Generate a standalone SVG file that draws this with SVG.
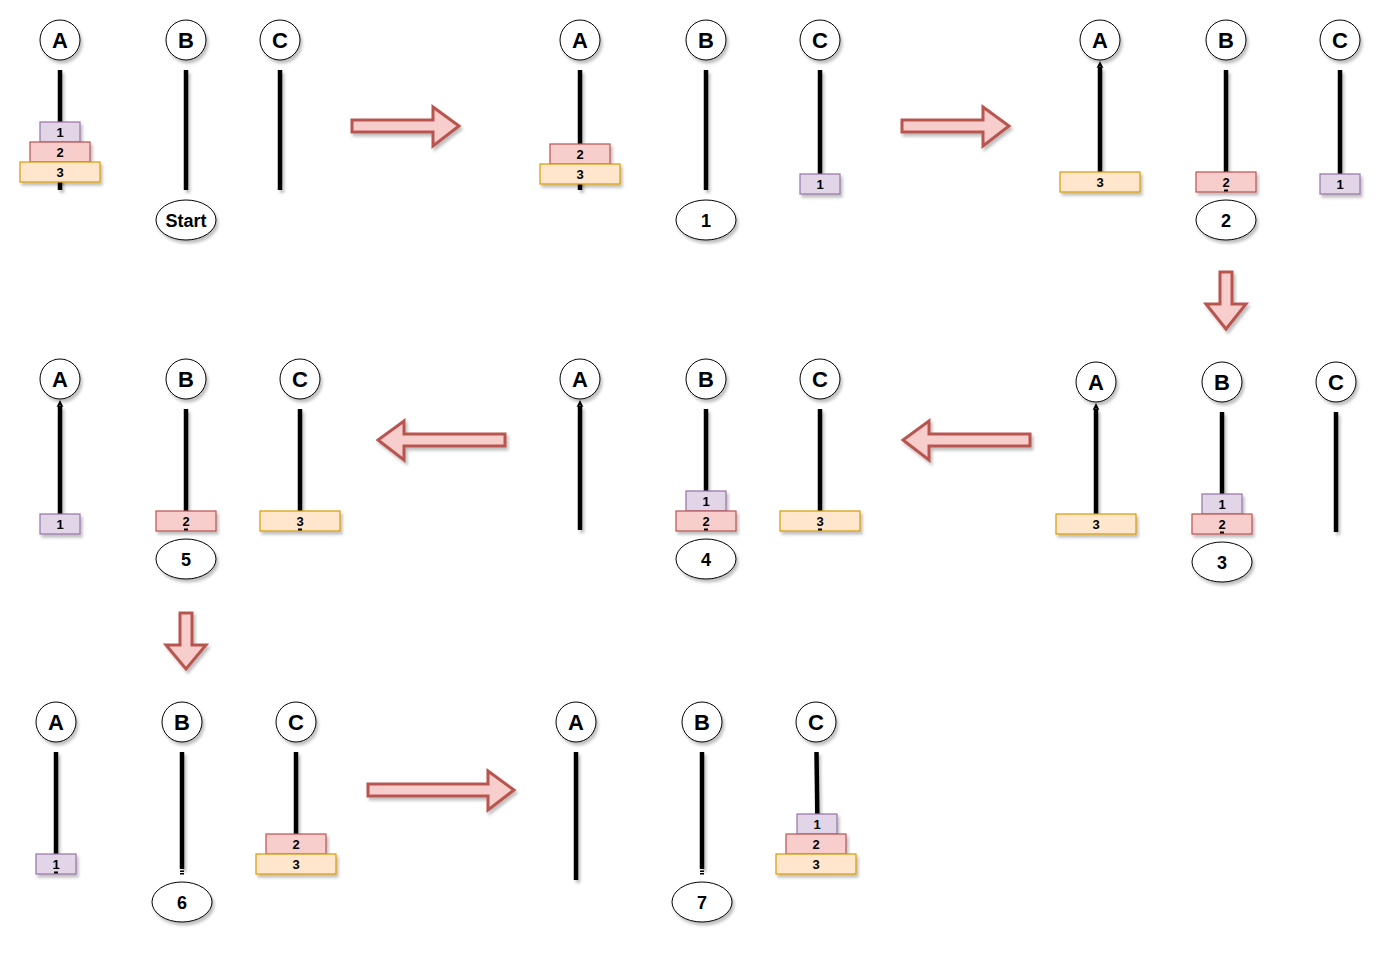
<svg xmlns="http://www.w3.org/2000/svg" width="1392" height="954" viewBox="0 0 1392 954">
<defs>
<filter id="sh" filterUnits="userSpaceOnUse" x="0" y="0" width="1392" height="954"><feDropShadow dx="2" dy="3" stdDeviation="1.5" flood-color="#000" flood-opacity="0.25"/></filter>
</defs>
<style>
.c{fill:#fff;stroke:#000;stroke-width:1;filter:url(#sh)}
.ct{font-family:"Liberation Sans",Arial,sans-serif;font-weight:bold;font-size:22px;text-anchor:middle;fill:#000}
.et{font-family:"Liberation Sans",Arial,sans-serif;font-weight:bold;font-size:18px;text-anchor:middle;fill:#000}
.dt{font-family:"Liberation Sans",Arial,sans-serif;font-weight:bold;font-size:13px;text-anchor:middle;fill:#000}
.p{stroke:#000;stroke-width:4.5;fill:none;filter:url(#sh)}
.d1{fill:#e1d5e7;stroke:#9673a6;stroke-width:1.2;filter:url(#sh)}
.d2{fill:#f8cecc;stroke:#b85450;stroke-width:1.2;filter:url(#sh)}
.d3{fill:#ffe6cc;stroke:#d79b00;stroke-width:1.2;filter:url(#sh)}
.ar{fill:#f8cecc;stroke:#b85450;stroke-width:3;stroke-linejoin:miter;filter:url(#sh)}
.ah{fill:#000}
.ds{fill:#000}
</style>

<!-- Panel Start -->
<g id="p0">
<circle class="c" cx="60" cy="40" r="20"/><text class="ct" x="60" y="48">A</text>
<circle class="c" cx="186" cy="40" r="20"/><text class="ct" x="186" y="48">B</text>
<circle class="c" cx="280" cy="40" r="20"/><text class="ct" x="280" y="48">C</text>
<line class="p" x1="60" y1="70" x2="60" y2="190"/>
<line class="p" x1="186" y1="70" x2="186" y2="190"/>
<line class="p" x1="280" y1="70" x2="280" y2="190"/>
<rect class="d1" x="40" y="122" width="40" height="20"/><text class="dt" x="60" y="136.5">1</text>
<rect class="d2" x="30" y="142" width="60" height="20"/><text class="dt" x="60" y="156.5">2</text>
<rect class="d3" x="20" y="162" width="80" height="20"/><text class="dt" x="60" y="176.5">3</text>
<ellipse class="c" cx="186" cy="220" rx="30" ry="20"/><text class="et" x="186" y="226.5">Start</text>
</g>

<!-- Panel 1 -->
<g id="p1">
<circle class="c" cx="580" cy="40" r="20"/><text class="ct" x="580" y="48">A</text>
<circle class="c" cx="706" cy="40" r="20"/><text class="ct" x="706" y="48">B</text>
<circle class="c" cx="820" cy="40" r="20"/><text class="ct" x="820" y="48">C</text>
<line class="p" x1="580" y1="70" x2="580" y2="190"/>
<line class="p" x1="706" y1="70" x2="706" y2="190"/>
<line class="p" x1="820" y1="70" x2="820" y2="174"/>
<rect class="d2" x="550" y="144" width="60" height="20"/><text class="dt" x="580" y="158.5">2</text>
<rect class="d3" x="540" y="164" width="80" height="20"/><text class="dt" x="580" y="178.5">3</text>
<rect class="d1" x="800" y="174" width="40" height="20"/><text class="dt" x="820" y="188.5">1</text>
<ellipse class="c" cx="706" cy="220" rx="30" ry="20"/><text class="et" x="706" y="226.5">1</text>
</g>

<!-- Panel 2 -->
<g id="p2">
<circle class="c" cx="1100" cy="40" r="20"/><text class="ct" x="1100" y="48">A</text>
<circle class="c" cx="1226" cy="40" r="20"/><text class="ct" x="1226" y="48">B</text>
<circle class="c" cx="1340" cy="40" r="20"/><text class="ct" x="1340" y="48">C</text>
<line class="p" x1="1100" y1="67" x2="1100" y2="172"/>
<path class="ah" d="M1100,61 L1103.5,68 L1100,66.5 L1096.5,68 Z"/>
<line class="p" x1="1226" y1="70" x2="1226" y2="172"/>
<line class="p" x1="1340" y1="70" x2="1340" y2="174"/>
<rect class="d3" x="1060" y="172" width="80" height="20"/><text class="dt" x="1100" y="186.5">3</text>
<rect class="d2" x="1196" y="172" width="60" height="20"/><text class="dt" x="1226" y="186.5">2</text>
<rect class="ds" x="1224" y="189.5" width="4" height="2"/>
<rect class="d1" x="1320" y="174" width="40" height="20"/><text class="dt" x="1340" y="188.5">1</text>
<ellipse class="c" cx="1226" cy="220" rx="30" ry="20"/><text class="et" x="1226" y="226.5">2</text>
</g>

<!-- Panel 3 -->
<g id="p3">
<circle class="c" cx="1096" cy="382" r="20"/><text class="ct" x="1096" y="390">A</text>
<circle class="c" cx="1222" cy="382" r="20"/><text class="ct" x="1222" y="390">B</text>
<circle class="c" cx="1336" cy="382" r="20"/><text class="ct" x="1336" y="390">C</text>
<line class="p" x1="1096" y1="409" x2="1096" y2="514"/>
<path class="ah" d="M1096,403 L1099.5,410 L1096,408.5 L1092.5,410 Z"/>
<line class="p" x1="1222" y1="412" x2="1222" y2="494"/>
<line class="p" x1="1336" y1="412" x2="1336" y2="532"/>
<rect class="d3" x="1056" y="514" width="80" height="20"/><text class="dt" x="1096" y="528.5">3</text>
<rect class="d1" x="1202" y="494" width="40" height="20"/><text class="dt" x="1222" y="508.5">1</text>
<rect class="d2" x="1192" y="514" width="60" height="20"/><text class="dt" x="1222" y="528.5">2</text>
<rect class="ds" x="1220" y="531.5" width="4" height="2"/>
<ellipse class="c" cx="1222" cy="562" rx="30" ry="20"/><text class="et" x="1222" y="568.5">3</text>
</g>

<!-- Panel 4 -->
<g id="p4">
<circle class="c" cx="580" cy="379" r="20"/><text class="ct" x="580" y="387">A</text>
<circle class="c" cx="706" cy="379" r="20"/><text class="ct" x="706" y="387">B</text>
<circle class="c" cx="820" cy="379" r="20"/><text class="ct" x="820" y="387">C</text>
<line class="p" x1="580" y1="406" x2="580" y2="530"/>
<path class="ah" d="M580,400 L583.5,407 L580,405.5 L576.5,407 Z"/>
<line class="p" x1="706" y1="409" x2="706" y2="491"/>
<line class="p" x1="820" y1="409" x2="820" y2="511"/>
<rect class="d1" x="686" y="491" width="40" height="20"/><text class="dt" x="706" y="505.5">1</text>
<rect class="d2" x="676" y="511" width="60" height="20"/><text class="dt" x="706" y="525.5">2</text>
<rect class="ds" x="704" y="528.5" width="4" height="2"/>
<rect class="d3" x="780" y="511" width="80" height="20"/><text class="dt" x="820" y="525.5">3</text>
<rect class="ds" x="818" y="528.5" width="4" height="2"/>
<ellipse class="c" cx="706" cy="559" rx="30" ry="20"/><text class="et" x="706" y="565.5">4</text>
</g>

<!-- Panel 5 -->
<g id="p5">
<circle class="c" cx="60" cy="379" r="20"/><text class="ct" x="60" y="387">A</text>
<circle class="c" cx="186" cy="379" r="20"/><text class="ct" x="186" y="387">B</text>
<circle class="c" cx="300" cy="379" r="20"/><text class="ct" x="300" y="387">C</text>
<line class="p" x1="60" y1="406" x2="60" y2="514"/>
<path class="ah" d="M60,400 L63.5,407 L60,405.5 L56.5,407 Z"/>
<line class="p" x1="186" y1="409" x2="186" y2="511"/>
<line class="p" x1="300" y1="409" x2="300" y2="511"/>
<rect class="d1" x="40" y="514" width="40" height="20"/><text class="dt" x="60" y="528.5">1</text>
<rect class="d2" x="156" y="511" width="60" height="20"/><text class="dt" x="186" y="525.5">2</text>
<rect class="ds" x="184" y="528.5" width="4" height="2"/>
<rect class="d3" x="260" y="511" width="80" height="20"/><text class="dt" x="300" y="525.5">3</text>
<rect class="ds" x="298" y="528.5" width="4" height="2"/>
<ellipse class="c" cx="186" cy="559" rx="30" ry="20"/><text class="et" x="186" y="565.5">5</text>
</g>

<!-- Panel 6 -->
<g id="p6">
<circle class="c" cx="56" cy="722" r="20"/><text class="ct" x="56" y="730">A</text>
<circle class="c" cx="182" cy="722" r="20"/><text class="ct" x="182" y="730">B</text>
<circle class="c" cx="296" cy="722" r="20"/><text class="ct" x="296" y="730">C</text>
<line class="p" x1="56" y1="752" x2="56" y2="854"/>
<line class="p" x1="182" y1="752" x2="182" y2="869"/>
<rect class="ds" x="180" y="870.5" width="4" height="1.5"/>
<rect class="ds" x="180" y="873" width="4" height="1.5"/>
<line class="p" x1="296" y1="752" x2="296" y2="834"/>
<rect class="d1" x="36" y="854" width="40" height="20"/><text class="dt" x="56" y="868.5">1</text>
<rect class="ds" x="54" y="871.5" width="4" height="2"/>
<rect class="d2" x="266" y="834" width="60" height="20"/><text class="dt" x="296" y="848.5">2</text>
<rect class="d3" x="256" y="854" width="80" height="20"/><text class="dt" x="296" y="868.5">3</text>
<ellipse class="c" cx="182" cy="902" rx="30" ry="20"/><text class="et" x="182" y="908.5">6</text>
</g>

<!-- Panel 7 -->
<g id="p7">
<circle class="c" cx="576" cy="722" r="20"/><text class="ct" x="576" y="730">A</text>
<circle class="c" cx="702" cy="722" r="20"/><text class="ct" x="702" y="730">B</text>
<circle class="c" cx="816" cy="722" r="20"/><text class="ct" x="816" y="730">C</text>
<line class="p" x1="576" y1="752" x2="576" y2="880"/>
<line class="p" x1="702" y1="752" x2="702" y2="869"/>
<rect class="ds" x="700" y="870.5" width="4" height="1.5"/>
<rect class="ds" x="700" y="873" width="4" height="1.5"/>
<line class="p" x1="816.5" y1="752" x2="817.3" y2="814"/>
<rect class="d1" x="797" y="814" width="40" height="20"/><text class="dt" x="817" y="828.5">1</text>
<rect class="d2" x="786" y="834" width="60" height="20"/><text class="dt" x="816" y="848.5">2</text>
<rect class="d3" x="776" y="854" width="80" height="20"/><text class="dt" x="816" y="868.5">3</text>
<ellipse class="c" cx="702" cy="902" rx="30" ry="20"/><text class="et" x="702" y="908.5">7</text>
</g>

<!-- Connectors (block arrows) -->
<g id="connectors">
<path class="ar" d="M352,120 L433,120 L433,107 L459,126 L433,146 L433,132 L352,132 Z"/>
<path class="ar" d="M902,120 L983,120 L983,107 L1009,126 L983,146 L983,132 L902,132 Z"/>
<path class="ar" d="M1220,272 L1232,272 L1232,304 L1246,304 L1226,329 L1206,304 L1220,304 Z"/>
<path class="ar" d="M1030,434 L929,434 L929,421 L903,440 L929,460 L929,446 L1030,446 Z"/>
<path class="ar" d="M505,434 L404,434 L404,421 L378,440 L404,460 L404,446 L505,446 Z"/>
<path class="ar" d="M180,613 L192,613 L192,645 L206,645 L186,669 L166,645 L180,645 Z"/>
<path class="ar" d="M368,784 L488,784 L488,771 L514,790 L488,810 L488,796 L368,796 Z"/>
</g>
</svg>
